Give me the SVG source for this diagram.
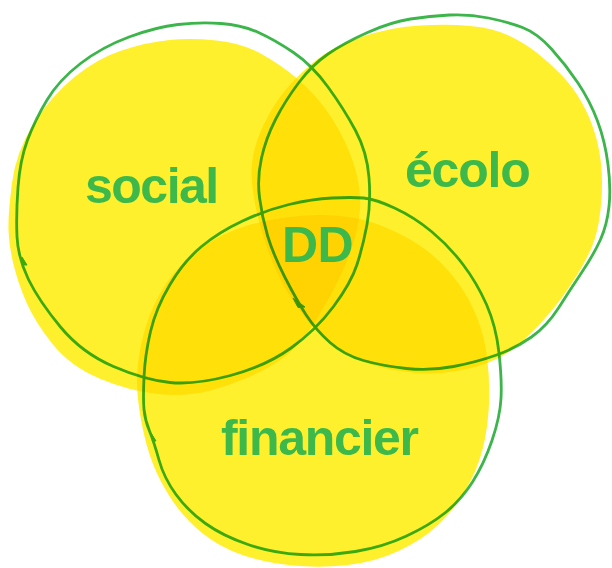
<svg xmlns="http://www.w3.org/2000/svg" width="612" height="568" viewBox="0 0 612 568">
<style>
.outline{fill:none;stroke:#3CB54A;stroke-width:2.8;stroke-linejoin:round}
.tick{fill:#3CB54A;stroke:#3CB54A;stroke-width:1;stroke-linejoin:round}
.fill{fill:#FFF02E;mix-blend-mode:multiply}
.label{font-family:"Liberation Sans",Arial,sans-serif;font-weight:bold;font-size:50px;fill:#3DB84A}
</style>
<rect width="612" height="568" fill="#FFFFFF"/>
<g id="connectors"></g>
<g id="outlines">
<path class="outline" d="M 18,187.5 Q 20,160 27.5,140 Q 35,120 47,100 Q 59,80 80.5,63.5 Q 102,47 129,37 Q 156,27 178,24.5 Q 200,22 221,23.5 Q 242,25 258.5,32.5 Q 275,40 293.5,52.5 Q 312,65 328,87 Q 344,109 355.5,130.5 Q 367,152 369,177.5 Q 371,203 367,224.5 Q 363,246 357,264.5 Q 351,283 333.5,306.5 Q 316,330 291,348 Q 266,366 230.5,375.5 Q 195,385 170,382.5 Q 145,380 113.5,366.5 Q 82,353 60.5,327 Q 39,301 28.5,279.5 Q 18,258 17,236.5 Q 16,215 18,187.5 Z"/>
<path class="outline" d="M 259.5,197.5 Q 257,178 261.5,158 Q 266,138 275.5,119.5 Q 285,101 298.5,83 Q 312,65 328,54 Q 344,43 367.5,32.5 Q 391,22 410.5,19 Q 430,16 449.5,15 Q 469,14 488.5,18 Q 508,22 522.5,27.5 Q 537,33 551.5,49 Q 566,65 578,83 Q 590,101 597.5,121 Q 605,141 608,164.5 Q 611,188 609,206.5 Q 607,225 600.5,239.5 Q 594,254 582,272 Q 570,290 558.5,308 Q 547,326 531.5,337 Q 516,348 496.5,355 Q 477,362 453.5,366.5 Q 430,371 406.5,368.5 Q 383,366 363.5,360.5 Q 344,355 330,342.5 Q 316,330 306.5,315.5 Q 297,301 285,277.5 Q 273,254 267.5,235.5 Q 262,217 259.5,197.5 Z"/>
<path class="outline" d="M 144,409.5 Q 143,399 144,377 Q 145,355 150.5,331.5 Q 156,308 170,284.5 Q 184,261 201.5,246.5 Q 219,232 242.5,221 Q 266,210 289,204.5 Q 312,199 332,198 Q 352,197 363.5,198 Q 375,199 394.5,208 Q 414,217 431.5,231.5 Q 449,246 463,264.5 Q 477,283 486.5,304.5 Q 496,326 499,353 Q 502,380 501,398.5 Q 500,417 492,440.5 Q 484,464 472.5,482 Q 461,500 445.5,512.5 Q 430,525 406.5,536 Q 383,547 355.5,551.5 Q 328,556 300.5,554.5 Q 273,553 248,544.5 Q 223,536 205.5,523.5 Q 188,511 176,494.5 Q 164,478 159,460 Q 154,442 149.5,431 Q 145,420 144,409.5 Z"/>
<path class="tick" d="M 22,257 L 27,265 L 23.5,265 Z"/>
<path class="tick" d="M 151,433 L 156,441 L 152.5,441 Z"/>
<path class="tick" d="M 293,298 L 305,307 L 298,307.5 Z"/>
</g>
<g id="fills">
<path id="social-fill" class="fill" d="M 8.5,230 Q 8,214 12,183 Q 16,152 33.5,124 Q 51,96 74.5,77 Q 98,58 123,50 Q 148,42 169.5,40 Q 191,38 216.5,40.5 Q 242,43 261.5,54 Q 281,65 296.5,78 Q 312,91 324,107 Q 336,123 344.5,141 Q 353,159 357,175.5 Q 361,192 360,208.5 Q 359,225 353.5,243 Q 348,261 338,281 Q 328,301 314.5,322.5 Q 301,344 287,355 Q 273,366 253.5,375 Q 234,384 210.5,390.5 Q 187,397 158,394 Q 129,391 99.5,378.5 Q 70,366 52.5,344 Q 35,322 26.5,302.5 Q 18,283 13.5,264.5 Q 9,246 8.5,230 Z"/>
<path id="ecolo-fill" class="fill" d="M 256,208.5 Q 250,181 252,163 Q 254,145 263.5,125 Q 273,105 285,90.5 Q 297,76 314.5,61.5 Q 332,47 361.5,37 Q 391,27 420,25.5 Q 449,24 470.5,26 Q 492,28 507.5,35 Q 523,42 536.5,52.5 Q 550,63 561.5,75 Q 573,87 581.5,102 Q 590,117 595,133.5 Q 600,150 601.5,169 Q 603,188 600.5,210 Q 598,232 592,246.5 Q 586,261 574.5,279 Q 563,297 551,311.5 Q 539,326 523.5,340.5 Q 508,355 488.5,362.5 Q 469,370 445.5,372.5 Q 422,375 396.5,370.5 Q 371,366 351.5,357 Q 332,348 318.5,333.5 Q 305,319 293,301 Q 281,283 271.5,259.5 Q 262,236 256,208.5 Z"/>
<path id="financier-fill" class="fill" d="M 141.5,422.5 Q 137,399 137,380.5 Q 137,362 142.5,338.5 Q 148,315 160,293.5 Q 172,272 191.5,255.5 Q 211,239 234.5,230 Q 258,221 285,217.5 Q 312,214 335.5,215.5 Q 359,217 378.5,224.5 Q 398,232 416,243 Q 434,254 449.5,272 Q 465,290 474.5,311.5 Q 484,333 487,356.5 Q 490,380 489,404 Q 488,428 482.5,449.5 Q 477,471 465,491 Q 453,511 437.5,525.5 Q 422,540 398.5,551 Q 375,562 347.5,565 Q 320,568 293,565.5 Q 266,563 242.5,555 Q 219,547 201.5,532.5 Q 184,518 172,500 Q 160,482 153,464 Q 146,446 141.5,422.5 Z"/>
</g>
<g id="social"><text class="label" x="85" y="203" letter-spacing="-1.5">social</text></g>
<g id="ecolo"><text class="label" x="405" y="187" letter-spacing="-1.2">écolo</text></g>
<g id="dd"><text class="label" x="282" y="262" letter-spacing="-0.5">DD</text></g>
<g id="financier"><text class="label" x="221" y="455" letter-spacing="-1.3">financier</text></g>
</svg>
